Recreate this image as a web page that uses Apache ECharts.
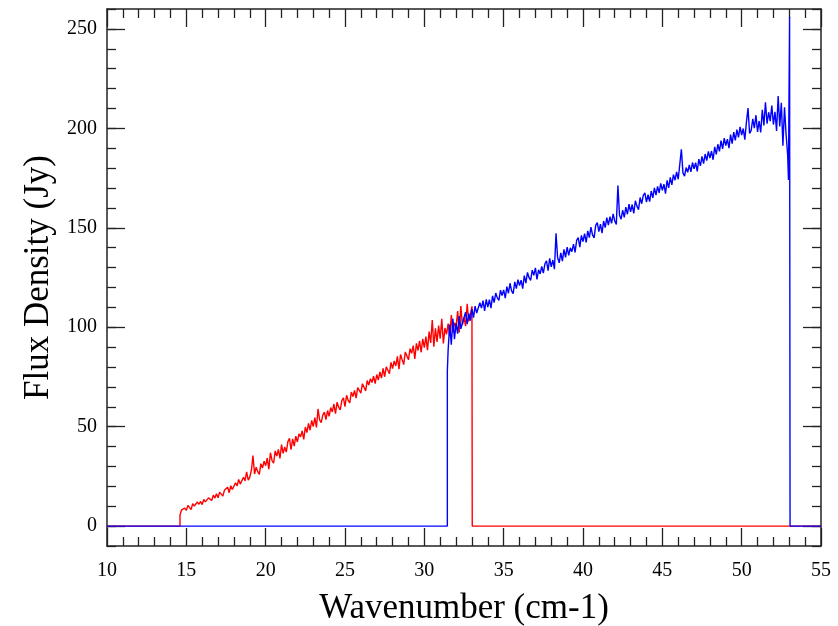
<!DOCTYPE html>
<html>
<head>
<meta charset="utf-8">
<script src="https://cdn.jsdelivr.net/npm/echarts@6/dist/echarts.min.js"></script>
<style>html,body{margin:0;padding:0;background:#fff}#c{width:838px;height:626px}</style>
</head>
<body>
<div id="c"></div>
<script>
// ---------------- data ----------------
const xTitle = 'Wavenumber (cm-1)';
const yTitle = 'Flux Density (Jy)';
const yMajorTicks = [0, 50, 100, 150, 200, 250];

// red spectrum: sampled from 14.6 cm-1 in steps of 0.1
const redStart = 14.6, redStep = 0.1;
const redValues = [
  5.5, 8.2, 7.4, 9.0,
  7.9, 10.4, 9.6, 8.3, 11.3, 10.1, 9.4, 12.1, 11.0, 12.4,
  10.8, 13.4, 12.2, 11.6, 14.2, 15.1, 12.9, 15.6, 14.1, 16.3,
  14.2, 17.1, 16.5, 15.1, 18.0, 17.2, 19.6, 16.8, 20.3, 18.4,
  19.1, 21.8, 20.2, 23.5, 21.1, 20.4, 24.6, 22.8, 27.3, 23.1,
  24.6, 28.1, 35.5, 26.2, 29.6, 27.4, 26.0, 31.4, 29.2, 32.6,
  30.4, 34.2, 28.6, 36.9, 33.0, 31.6, 37.8, 35.2, 38.6, 34.0,
  41.0, 36.6, 39.8, 37.2, 42.5, 44.1, 38.4, 43.9, 40.2, 45.2,
  42.3, 46.4, 44.9, 47.9, 43.6, 49.8, 47.0, 51.6, 48.2, 53.2,
  50.1, 54.6, 49.6, 58.9, 53.4, 52.0, 55.8, 57.3, 53.6, 58.1,
  55.2, 59.6, 57.4, 61.4, 56.5, 62.3, 59.8, 58.4, 63.1, 64.5,
  60.1, 65.8, 63.2, 62.0, 67.4, 65.1, 68.2, 64.3, 69.6, 70.3,
  66.9, 71.6, 69.8, 68.0, 73.2, 70.9, 74.1, 72.2, 75.4, 71.6,
  76.2, 73.5, 77.5, 74.4, 79.3, 75.1, 80.1, 78.4, 76.6, 82.3,
  79.2, 83.1, 80.5, 85.4, 78.9, 86.3, 83.7, 81.2, 87.6, 88.5,
  83.6, 89.2, 86.9, 90.8, 84.1, 91.9, 88.3, 93.2, 87.4, 94.1,
  89.7, 95.3, 88.4, 97.8, 92.1, 103.6, 90.2, 99.4, 92.6, 100.8,
  94.3, 104.2, 91.9, 99.6, 96.4, 101.8, 95.5, 106.1, 97.2, 102.3,
  99.8, 108.1, 97.4, 110.6, 101.2, 104.9, 100.5, 111.8, 102.9, 106.4
];
const redLead = [[10, 0], [14.6, 0]];
const redTail = [[33.0, 110.5], [33.02, 0], [55, 0]];

// blue spectrum: sampled from 31.5 cm-1 in steps of 0.1
const blueStart = 31.5, blueStep = 0.1;
const blueValues = [
  88.6, 101.4, 91.2, 104.3, 94.0,
  101.9, 96.8, 105.6, 99.2, 98.4, 104.8, 107.6, 101.5, 106.9, 103.3,
  109.2, 104.8, 110.6, 107.1, 106.3, 112.3, 109.6, 113.4, 108.2, 114.0,
  110.1, 113.9, 109.6, 115.8, 112.4, 117.2, 114.8, 113.5, 118.6, 115.9,
  118.8, 114.6, 120.4, 117.1, 122.1, 118.3, 116.9, 122.8, 119.4, 123.9,
  121.0, 123.7, 119.4, 125.9, 122.2, 127.6, 124.9, 123.6, 128.7, 126.1,
  129.8, 124.1, 128.9, 126.8, 130.6, 127.2, 131.9, 133.4, 128.4, 134.6,
  130.3, 133.8, 129.2, 147.2, 134.9, 132.4, 137.4, 133.2, 139.1, 135.1,
  140.3, 136.1, 139.9, 138.0, 141.8, 137.6, 143.7, 145.0, 140.3, 146.2,
  143.1, 147.1, 142.6, 148.4, 145.1, 150.3, 146.4, 144.9, 151.2, 152.6,
  148.1, 151.8, 147.3, 153.4, 150.1, 155.1, 151.3, 155.6, 152.2, 157.0,
  153.4, 151.7, 171.2, 156.4, 154.3, 158.9, 155.2, 160.4, 156.8, 161.9,
  158.0, 161.7, 157.2, 163.6, 160.9, 159.1, 165.2, 162.1, 166.3, 167.5,
  162.9, 166.6, 163.2, 168.5, 165.0, 170.1, 166.4, 170.8, 167.6, 172.3,
  168.8, 171.9, 167.2, 173.8, 170.1, 175.3, 171.6, 176.7, 173.9, 178.1,
  174.4, 173.7, 189.4, 177.6, 176.0, 180.3, 177.9, 181.6, 178.1, 182.8,
  179.7, 182.7, 178.4, 184.5, 181.1, 185.9, 182.3, 187.1, 183.8, 188.4,
  185.0, 188.6, 184.2, 190.7, 186.9, 192.0, 188.4, 193.8, 189.7, 195.1,
  191.3, 194.6, 190.0, 196.8, 192.3, 198.1, 193.9, 199.3, 195.4, 200.7,
  196.6, 199.9, 194.3, 203.1, 210.2, 197.4, 199.0, 204.8, 200.1, 206.6,
  198.2, 203.7, 197.9, 209.3, 201.4, 213.1, 202.3, 208.1, 203.6, 211.4,
  201.9, 208.3, 198.7, 216.2, 200.9, 212.8, 191.3, 210.6, 196.9, 186.5
];
const blueLead = [[10, 0], [31.45, 0], [31.45, 78]];
const blueTail = [[52.95, 174], [52.98, 212], [53.02, 256], [53.05, 0], [55, 0]];

// ---------------- build ----------------
function sampled(start, step, vals) {
  return vals.map((v, i) => [Math.round((start + i * step) * 100) / 100, v]);
}
const redData = redLead.concat(sampled(redStart, redStep, redValues), redTail);
const blueData = blueLead.concat(sampled(blueStart, blueStep, blueValues), blueTail);

const FONT = "'Liberation Serif', 'Times New Roman', serif";
const AX = '#222';

function xAx(pos, withLabels) {
  return {
    type: 'value', position: pos, min: 10, max: 55, interval: 5,
    axisLine: { show: true, onZero: false, lineStyle: { color: AX, width: 1.5 } },
    axisTick: { show: true, inside: true, length: 18, lineStyle: { color: AX, width: 1.3 } },
    minorTick: { show: true, splitNumber: 5, length: 9, lineStyle: { color: AX, width: 1.3 } },
    splitLine: { show: false },
    axisLabel: { show: withLabels, fontFamily: FONT, fontSize: 20, color: '#000', margin: 15 },
    name: withLabels ? xTitle : '',
    nameLocation: 'middle', nameGap: 45,
    nameTextStyle: { fontFamily: FONT, fontSize: 35, color: '#000' }
  };
}
function yMajor(pos, withLabels) {
  return {
    type: 'value', position: pos, min: -10, max: 260, interval: 10,
    axisLine: { show: true, onZero: false, lineStyle: { color: AX, width: 1.5 } },
    axisTick: { show: true, inside: true, length: 18, customValues: yMajorTicks, lineStyle: { color: AX, width: 1.3 } },
    splitLine: { show: false },
    axisLabel: { show: withLabels, customValues: yMajorTicks, fontFamily: FONT, fontSize: 20, color: '#000', margin: 10 },
    name: withLabels ? yTitle : '',
    nameLocation: 'middle', nameGap: 50, nameRotate: 90,
    nameTextStyle: { fontFamily: FONT, fontSize: 35, color: '#000' }
  };
}
function yMinor(pos) {
  return {
    type: 'value', position: pos, min: -10, max: 260, interval: 10,
    axisLine: { show: false },
    axisTick: { show: true, inside: true, length: 9, lineStyle: { color: AX, width: 1.3 } },
    splitLine: { show: false },
    axisLabel: { show: false }
  };
}

const chart = echarts.init(document.getElementById('c'), null, { renderer: 'canvas' });
chart.setOption({
  animation: false,
  backgroundColor: '#fff',
  grid: { left: 107, right: 17, top: 9, bottom: 80, containLabel: false, outerBoundsMode: 'none' },
  xAxis: [xAx('bottom', true), xAx('top', false)],
  yAxis: [yMajor('left', true), yMinor('left'), yMajor('right', false), yMinor('right')],
  series: [
    { type: 'line', name: 'red', data: redData, xAxisIndex: 0, yAxisIndex: 0,
      showSymbol: false, symbol: 'none', lineStyle: { color: '#ff0000', width: 1.4 }, z: 2 },
    { type: 'line', name: 'blue', data: blueData, xAxisIndex: 0, yAxisIndex: 0,
      showSymbol: false, symbol: 'none', lineStyle: { color: '#0000ff', width: 1.4 }, z: 3 }
  ]
});
</script>
</body>
</html>
